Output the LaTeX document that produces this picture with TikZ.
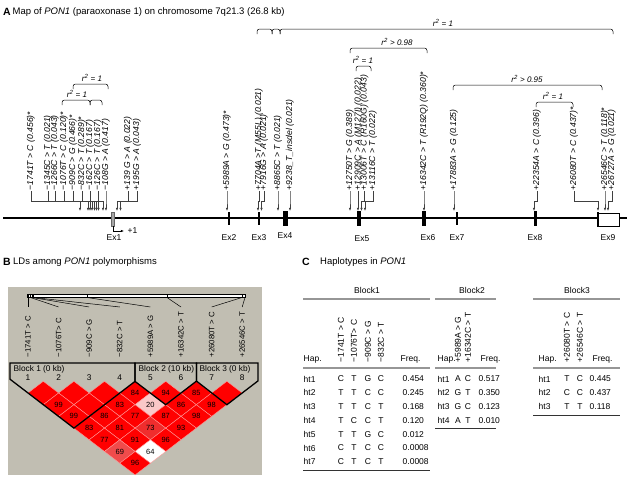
\documentclass[tikz,border=0pt]{standalone}
\usepackage{fontspec}
\setmainfont{Liberation Sans}
\usetikzlibrary{arrows.meta}
\definecolor{ldRed}{RGB}{255,0,0}
\definecolor{ldPink}{RGB}{250,200,200}
\definecolor{ldMid}{RGB}{240,75,75}
\definecolor{ldDeep}{RGB}{240,45,45}
\definecolor{ldBack}{RGB}{193,190,178}
\definecolor{ruleGray}{RGB}{150,150,150}

\begin{document}
\begin{tikzpicture}[x=1pt,y=-1pt,
    snp/.style={rotate=90,anchor=west,inner sep=0.5pt,font=\fontsize{8.6}{9}\selectfont\itshape},
    lnk/.style={black!75,line width=0.5pt},
    tip/.style={-{Latex[length=3.2pt,width=2.4pt]}},
    brk/.style={line width=0.5pt,rounded corners=2.5pt},
    rsq/.style={anchor=south,inner sep=0.5pt,font=\fontsize{8}{9}\selectfont\itshape},
    exlab/.style={inner sep=0.5pt,font=\fontsize{8.5}{10}\selectfont},
    mk/.style={rotate=90,anchor=west,inner sep=0.5pt,font=\fontsize{7.8}{9}\selectfont},
    blk/.style={anchor=west,inner sep=0.5pt,font=\fontsize{8.3}{9}\selectfont},
    ldnum/.style={inner sep=0pt,text=black,font=\fontsize{7.5}{8}\selectfont},
    tab/.style={inner sep=0.5pt,font=\fontsize{8.5}{10}\selectfont},
    colh/.style={rotate=90,anchor=west,inner sep=0.5pt,font=\fontsize{8.5}{10}\selectfont},
    panel/.style={anchor=west,inner sep=0pt,font=\fontsize{10.5}{12}\selectfont\bfseries},
    ptitle/.style={anchor=west,inner sep=0pt,font=\fontsize{9.5}{11}\selectfont}]
\useasboundingbox (0,0) rectangle (630,479);

% A: gene map
\node[panel] (pa) at (3,12) {A};
\node[ptitle] (ta) at (12.5,12) {Map of \textit{PON1} (paraoxonase 1) on chromosome 7q21.3 (26.8 kb)};

\draw[line width=1.8pt] (3,218) -- (627,218);
\filldraw[fill=gray!70,draw=black!60,line width=0.3pt] (111,212) rectangle (114.5,226);
\draw[line width=1.6pt] (229,212) -- (229,225);
\draw[line width=1.6pt] (259,212) -- (259,225);
\fill (283,211) rectangle (288,226);
\fill (357,211) rectangle (361,226);
\fill (422,211) rectangle (426,226);
\draw[line width=1.6pt] (457,212) -- (457,225);
\fill (533.5,211) rectangle (536.5,226);
\draw[fill=white,line width=0.6pt] (597,213) rectangle (619,226);
\draw[line width=2pt] (597.5,212) -- (597.5,227);

\coordinate (ex1b) at (113,226);
\coordinate (tss) at (124,231);
\draw[black,line width=0.5pt,tip] (ex1b) |- (tss);
\node[exlab,anchor=west] (plus1) at (127,231) {+1};
\foreach \n/\xe/\ye in {1/114/238,2/229/238,3/259/238,4/285/236,5/362/239,6/428/238,7/457/238,8/535/238,9/608/238}
  \node[exlab] (ex\n) at (\xe,\ye) {Ex\n};

\coordinate (bus) at (0,201);
\foreach \n/\xl/\xt/\lab in {
    1/31/80/{−1741T > C (0.456)*},
    2/48/88/{−1345C > T (0.021)},
    3/55/90/{−1266C > T (0.043)},
    4/64/92/{−1076T > C (0.120)*},
    5/73/94.5/{−909C > G (0.466)*},
    6/82/96.5/{−832C > T (0.289)*},
    7/90/98.5/{−162C > T (0.167)},
    8/98/103/{−126C > T (0.167)},
    9/106/106/{−108G > A (0.417)},
    10/128/117/{+139 G > A (0.022)},
    11/137/120.5/{+195G > A (0.043)},
    12/227/227/{+5989A > G (0.473)*},
    13/259/258/{+7704A >T (M55L) (0.021)},
    14/264/261.5/{+7916G > A (0.021)},
    15/278/278/{+8865C > T (0.021)},
    16/290/290/{+9238\_T\_insdel (0.021)},
    17/350/350/{+12750T > G (0.389)},
    18/358.5/358/{+12909C > A (M127I) (0.022)},
    19/364.5/365/{+13006T > C (R160G) (0.043)},
    20/373/361.5/{+13116C > T (0.022)},
    21/424/424/{+16342C > T (R192Q) (0.360)*},
    22/454/454/{+17883A > G (0.125)},
    23/537/534/{+22354A > C (0.396)},
    24/574/598/{+26080T > C (0.437)*},
    25/605/605/{+26546C > T (0.118)*},
    26/612/608/{+26727A > G (0.021)}} {
  \node[snp] (s\n) at (\xl,191) {\lab};
  \coordinate (t\n) at (\xt,211);
  \draw[lnk,tip] (s\n.west) -- (s\n.west |- bus) -| (t\n);
}

\foreach \xa/\xb/\yb in {257/272/29,272/280/29,280/613/29,350/427/48,356/371/66,
    453/602/85,536/573/102,73/108/84,62/90/100,90/102/100}
  \draw[brk] (\xa,\yb+5) -- (\xa,\yb) -- (\xb,\yb) -- (\xb,\yb+5);
\node[rsq] (r1) at (443,27) {r\textsuperscript{2} = 1};
\node[rsq] (r2) at (397,46) {r\textsuperscript{2} > 0.98};
\node[rsq] (r3) at (363,64) {r\textsuperscript{2} = 1};
\node[rsq] (r4) at (527,83) {r\textsuperscript{2} > 0.95};
\node[rsq] (r5) at (553,100) {r\textsuperscript{2} = 1};
\node[rsq] (r6) at (92,82) {r\textsuperscript{2} = 1};
\node[rsq] (r7) at (77,98) {r\textsuperscript{2} = 1};

% B: LD plot
\node[panel] (pb) at (3,262) {B};
\node[ptitle] (tb) at (13,262) {LDs among \textit{PON1} polymorphisms};
\fill[ldBack] (8,287) rectangle (262,475);
\draw[fill=white,line width=0.5pt] (27,294) rectangle (245.5,297.5);
\foreach \i/\xb/\lab in {1/28/{−1741T > C},2/30.5/{−1076T> C},3/32/{−909C > G},4/33.5/{−832C > T},
    5/87/{+5989A > G},6/167/{+16342C > T},7/242/{+26080T > C},8/245/{+26546C > T}} {
  \coordinate (b\i) at (\xb,297.5);
  \draw[line width=0.4pt] (\xb,294) -- (b\i);
  \node[mk] (m\i) at ({28+30.6*(\i-1)},358) {\lab};
  \coordinate (e\i) at ({28+30.6*(\i-1)},307);
  \draw[line width=0.5pt] (b\i) -- (e\i);
}

\foreach \i/\j/\v/\c in {1/2//ldRed,2/3//ldRed,3/4//ldRed,4/5/84/ldRed,5/6/94/ldRed,6/7/85/ldRed,7/8//ldRed,
    1/3/99/ldRed,2/4//ldRed,3/5/83/ldRed,4/6/20/ldPink,5/7/86/ldRed,6/8/98/ldRed,
    1/4/99/ldRed,2/5/86/ldRed,3/6/77/ldRed,4/7/87/ldRed,5/8/98/ldRed,
    1/5/83/ldRed,2/6/81/ldRed,3/7/73/ldDeep,4/8/93/ldRed,
    1/6/77/ldRed,2/7/91/ldRed,3/8/96/ldRed,
    1/7/69/ldMid,2/8/64/white,
    1/8/96/ldRed} {
  \pgfmathsetmacro\cx{28+15.3*(\i+\j-2)}
  \pgfmathsetmacro\cy{393+11.7*(\j-\i-1)}
  \filldraw[fill=\c,draw=white!60!red,line width=0.4pt]
    (\cx-15.3,\cy) -- (\cx,\cy-11.7) -- (\cx+15.3,\cy) -- (\cx,\cy+11.7) -- cycle;
  \node[ldnum] (d\i\j) at (\cx,\cy) {\v};
}

\draw[line width=1.3pt] (10,363) -- (10,379.2) -- (73.9,428.1) -- (135,381.4) -- (135,363) -- cycle;
\draw[line width=1.3pt] (135,363) -- (135,381.4) -- (165.7,404.7) -- (196.5,381.1) -- (196.5,363) -- cycle;
\draw[line width=1.3pt] (196.5,363) -- (196.5,381.1) -- (226.9,404.7) -- (258,380.9) -- (258,363) -- cycle;
\node[blk] (bl1) at (13,369) {Block 1 (0 kb)};
\node[blk] (bl2) at (138,369) {Block 2 (10 kb)};
\node[blk] (bl3) at (199,369) {Block 3 (0 kb)};
\foreach \i in {1,...,8}
  \node[blk,anchor=center] (n\i) at ({28+30.6*(\i-1)},377.5) {\i};

% C: haplotype tables
\node[panel] (pc) at (302,262) {C};
\node[ptitle] (tc) at (320,262) {Haplotypes in \textit{PON1}};

\foreach \xa/\xb/\yb in {303/430/470,435/496/428,533/620/415} {
  \draw[ruleGray,line width=2pt] (\xa,299) -- (\xb,299);
  \draw[ruleGray,line width=2pt] (\xa,368) -- (\xb,368);
  \draw[black!80,line width=0.7pt] (\xa,\yb) -- (\xb,\yb);
}
\node[tab] (bk1) at (367,290) {Block1};
\node[tab] (bk2) at (472,290) {Block2};
\node[tab] (bk3) at (577,290) {Block3};
\foreach \k/\xh/\xf in {1/303/400,2/437/480,3/538/592} {
  \node[tab,anchor=west] (hp\k) at (\xh,359) {Hap.};
  \node[tab,anchor=west] (fq\k) at (\xf,359) {Freq.};
}
\foreach \k/\xc/\lab in {1/341/{−1741T > C},2/354/{−1076T> C},3/368/{−909C > G},4/381/{−832C > T},
    5/458/{+5989A > G},6/468/{+16342C > T},7/567/{+26080T > C},8/580/{+26546C > T}}
  \node[colh] (ch\k) at (\xc,363) {\lab};

\foreach \r/\ga/\gb/\gc/\gd/\fq in {1/C/T/G/C/0.454,2/T/T/C/C/0.245,3/T/T/C/T/0.168,4/T/C/C/T/0.120,
    5/T/T/G/C/0.012,6/C/T/C/C/0.0008,7/C/T/C/T/0.0008} {
  \pgfmathsetmacro\ry{379+13.8*(\r-1)}
  \node[tab,anchor=west] (ha\r) at (303,\ry) {ht\r};
  \node[tab] (aa\r) at (341,\ry) {\ga};
  \node[tab] (ab\r) at (354,\ry) {\gb};
  \node[tab] (ac\r) at (368,\ry) {\gc};
  \node[tab] (ad\r) at (381,\ry) {\gd};
  \node[tab,anchor=west] (af\r) at (402,\ry) {\fq};
}
\foreach \r/\ga/\gb/\fq in {1/A/C/0.517,2/G/T/0.350,3/G/C/0.123,4/A/T/0.010} {
  \pgfmathsetmacro\ry{379+13.8*(\r-1)}
  \node[tab,anchor=west] (hb\r) at (437,\ry) {ht\r};
  \node[tab] (ba\r) at (458,\ry) {\ga};
  \node[tab] (bb\r) at (468,\ry) {\gb};
  \node[tab,anchor=west] (bf\r) at (478,\ry) {\fq};
}
\foreach \r/\ga/\gb/\fq in {1/T/C/0.445,2/C/C/0.437,3/T/T/0.118} {
  \pgfmathsetmacro\ry{379+13.8*(\r-1)}
  \node[tab,anchor=west] (hc\r) at (538,\ry) {ht\r};
  \node[tab] (ca\r) at (567,\ry) {\ga};
  \node[tab] (cb\r) at (580,\ry) {\gb};
  \node[tab,anchor=west] (cf\r) at (589,\ry) {\fq};
}
\end{tikzpicture}
\end{document}
